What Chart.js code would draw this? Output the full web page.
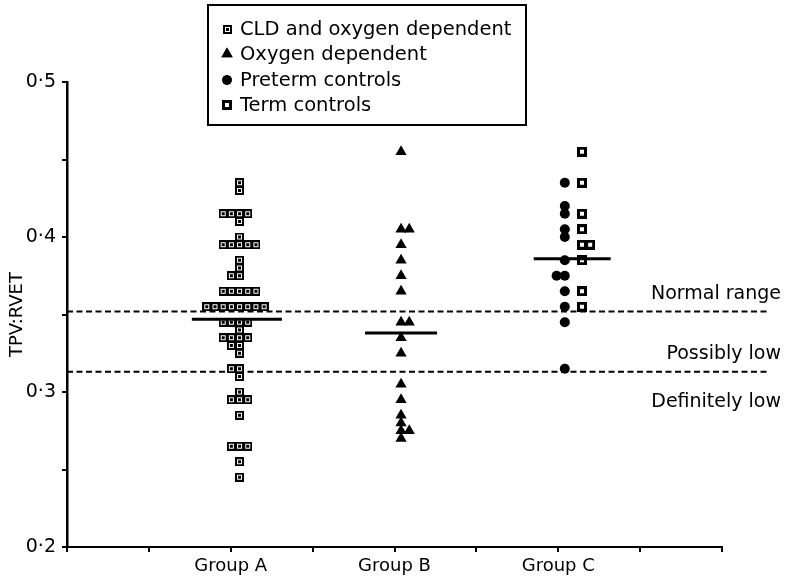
<!DOCTYPE html>
<html><head><meta charset="utf-8">
<script src="https://cdn.jsdelivr.net/npm/chart.js@4.4.1/dist/chart.umd.min.js"></script>
<style>html,body{margin:0;padding:0;background:#fff;} #wrap{width:787px;height:577px;position:relative;}</style>
</head><body><div id="wrap"><canvas id="c" width="787" height="577"></canvas></div>
<script>
// ---------------- data ----------------
const categories = ['Group A', 'Group B', 'Group C'];
const seriesNames = ['CLD and oxygen dependent', 'Oxygen dependent', 'Preterm controls', 'Term controls'];
const cldOxygen = [0.435, 0.43, 0.415, 0.415, 0.415, 0.415, 0.41, 0.40, 0.395, 0.395, 0.395, 0.395, 0.395,
  0.385, 0.38, 0.375, 0.375, 0.365, 0.365, 0.365, 0.365, 0.365,
  0.355, 0.355, 0.355, 0.355, 0.355, 0.355, 0.355, 0.355, 0.345, 0.345, 0.345, 0.345, 0.34,
  0.335, 0.335, 0.335, 0.335, 0.33, 0.33, 0.325, 0.315, 0.315, 0.31, 0.30, 0.295, 0.295, 0.295,
  0.285, 0.265, 0.265, 0.265, 0.255, 0.245];
const oxygenDependent = [0.455, 0.405, 0.405, 0.395, 0.385, 0.375, 0.365, 0.345, 0.345, 0.335, 0.325,
  0.305, 0.295, 0.285, 0.28, 0.275, 0.275, 0.27];
const pretermControls = [0.435, 0.42, 0.415, 0.405, 0.40, 0.385, 0.375, 0.375, 0.365, 0.355, 0.345, 0.315];
const termControls = [0.455, 0.435, 0.415, 0.405, 0.395, 0.395, 0.385, 0.365, 0.355];
const medians = [0.347, 0.338, 0.386];
const thresholds = [0.352, 0.313];
const zoneLabels = ['Normal range', 'Possibly low', 'Definitely low'];
const zoneLabelValues = [0.3632, 0.3245, 0.2935];
const yTickValues = [0.2, 0.3, 0.4, 0.5];
const yTickLabels = ['0·2', '0·3', '0·4', '0·5'];

// ---------------- layout (not data) ----------------
const catPos = [2, 4, 6];
const colStep = 0.1;
const seriesLayout = [
  { cat: 0, off: 0.107, align: 'center' },
  { cat: 1, off: 0.08, align: 'right' },
  { cat: 2, off: 0.08, align: 'center' },
  { cat: 2, off: 0.29, align: 'right' }
];
const medianOff = [0.075, 0.08, 0.17];
const medianHalf = [0.55, 0.44, 0.47];
const FONT = "'DejaVu Sans', 'Liberation Sans', sans-serif";

function swarm(values, lay) {
  const counts = {};
  values.forEach(v => { counts[v] = (counts[v] || 0) + 1; });
  const seen = {};
  const base = catPos[lay.cat] + lay.off;
  return values.map(v => {
    const n = counts[v];
    seen[v] = seen[v] === undefined ? 0 : seen[v] + 1;
    const start = lay.align === 'center' ? -Math.floor(n / 2) : 0;
    return { x: base + (start + seen[v]) * colStep, y: v };
  });
}

// ---------------- point style images ----------------
function mk(w, h, fn) { const c = document.createElement('canvas'); c.width = w; c.height = h; fn(c.getContext('2d')); return c; }
const cldImg = mk(9, 9, g => { g.fillStyle = '#000'; g.fillRect(0, 0, 9, 9); g.strokeStyle = '#fff'; g.lineWidth = 1; g.strokeRect(2.5, 2.5, 4, 4); g.fillStyle = '#000'; g.fillRect(3, 3, 3, 3); });
const termImg = mk(10, 10, g => { g.fillStyle = '#000'; g.fillRect(0, 0, 10, 10); g.fillStyle = '#fff'; g.fillRect(3, 3, 4, 4); });

const pointSets = [cldOxygen, oxygenDependent, pretermControls, termControls];
const styles = [
  { pointStyle: cldImg, radius: 5 },
  { pointStyle: 'triangle', radius: 6.5 },
  { pointStyle: 'circle', radius: 5 },
  { pointStyle: termImg, radius: 5 }
];

const datasets = [];
pointSets.forEach((vals, i) => {
  datasets.push({
    type: 'scatter', label: seriesNames[i], data: swarm(vals, seriesLayout[i]),
    pointStyle: styles[i].pointStyle, pointRadius: styles[i].radius,
    backgroundColor: '#000', borderColor: '#000', borderWidth: 0, order: 1
  });
});
medians.forEach((m, i) => {
  const c = catPos[i] + medianOff[i];
  datasets.push({
    type: 'line', label: 'median ' + categories[i],
    data: [{ x: c - medianHalf[i], y: m }, { x: c + medianHalf[i], y: m }],
    borderColor: '#000', borderWidth: 3, pointRadius: 0, order: 0
  });
});
thresholds.forEach(t => {
  datasets.push({
    type: 'line', label: 'threshold',
    data: [{ x: 0, y: t }, { x: 8.55, y: t }],
    borderColor: '#000', borderWidth: 2, borderDash: [6, 3.5], pointRadius: 0, clip: false, order: 2
  });
});

// ---------------- plugins ----------------
const boxLegend = {
  id: 'boxLegend',
  afterDraw(chart) {
    const g = chart.ctx;
    g.save();
    g.strokeStyle = '#000'; g.lineWidth = 2;
    g.strokeRect(208, 5, 318, 120);
    const rows = [29, 54, 80, 105];
    g.font = '19.5px ' + FONT; g.fillStyle = '#000'; g.textBaseline = 'middle'; g.textAlign = 'left';
    seriesNames.forEach((name, i) => {
      const y = rows[i];
      const st = styles[i].pointStyle;
      if (typeof st === 'string') {
        Chart.helpers.drawPoint(g, { pointStyle: st, radius: st === 'triangle' ? 6.5 : 4.8, borderWidth: 0 }, 227, y);
        g.fill();
      } else {
        g.drawImage(st, Math.round(227 - st.width / 2), Math.round(y - st.height / 2));
      }
      g.fillText(name, 240, y + 1);
    });
    g.restore();
  }
};
const zoneText = {
  id: 'zoneText',
  afterDraw(chart) {
    const g = chart.ctx, ys = chart.scales.y;
    g.save();
    g.font = '19px ' + FONT; g.fillStyle = '#000'; g.textAlign = 'right'; g.textBaseline = 'middle';
    zoneLabels.forEach((t, i) => g.fillText(t, 781, ys.getPixelForValue(zoneLabelValues[i])));
    g.restore();
  }
};

Chart.defaults.font.family = FONT;
Chart.defaults.font.size = 18;
Chart.defaults.color = '#000';

new Chart(document.getElementById('c'), {
  data: { datasets },
  options: {
    responsive: false, animation: false, events: [],
    layout: { padding: { top: 82, right: 65, bottom: 0, left: 0 } },
    plugins: { legend: { display: false }, tooltip: { enabled: false } },
    scales: {
      x: {
        type: 'linear', min: 0, max: 8,
        afterFit(s) { s.height = 30; },
        ticks: {
          stepSize: 1, autoSkip: false, maxRotation: 0, padding: 4,
          callback: v => { const i = catPos.indexOf(v); return i >= 0 ? categories[i] : ''; }
        },
        grid: { drawOnChartArea: false, drawTicks: true, tickLength: 5, color: '#000', lineWidth: 2 },
        border: { color: '#000', width: 2 }
      },
      y: {
        type: 'linear', min: 0.2, max: 0.5,
        afterFit(s) { s.width = 67; },
        ticks: {
          stepSize: 0.05, padding: 6, font: { size: 19 },
          callback: v => { const i = yTickValues.findIndex(t => Math.abs(t - v) < 1e-6); return i >= 0 ? yTickLabels[i] : ''; }
        },
        title: { display: true, text: 'TPV:RVET', padding: { top: 7, bottom: 0 } },
        grid: { drawOnChartArea: false, drawTicks: true, tickLength: 5, color: '#000', lineWidth: 2 },
        border: { color: '#000', width: 2.5 }
      }
    }
  },
  plugins: [boxLegend, zoneText]
});
</script></body></html>
